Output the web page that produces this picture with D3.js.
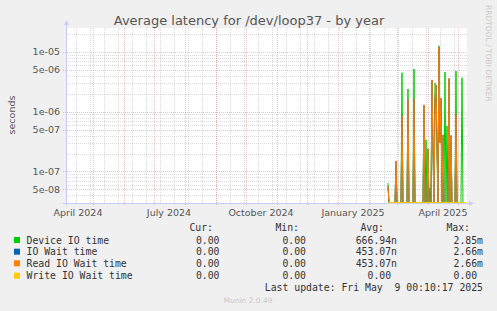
<!DOCTYPE html>
<html>
<head>
<meta charset="utf-8">
<script src="https://cdn.jsdelivr.net/npm/d3@7"></script>
<style>
  body { margin: 0; background: #f0f0f0; }
  svg { display: block; }
</style>
</head>
<body>
<div id="chart"></div>
<script>
const W = 497, H = 311;
const PLOT = { LEFT: 66, RIGHT: 466, TOP: 28, BOTTOM: 203 };

// series, one value per day starting at firstDay (0 = idle)
const firstDay = Date.UTC(2025, 1, 20);
const deviceIO = [
  6.4e-8, 0, 0, 0, 0, 0, 0, 0, 1.2e-7, 0,
  0, 0, 0, 0, 4.5e-6, 0, 0, 0, 0, 0,
  2.4e-6, 0, 0, 0, 0, 0, 5.2e-6, 0, 0, 0,
  0, 0, 0, 0, 0, 0, 1.2e-6, 0, 3.4e-7, 0,
  2.2e-7, 0, 5.3e-8, 0, 3.2e-6, 2.5e-7, 0, 3.0e-6, 2.6e-6, 2.0e-7,
  0, 1.27e-5, 3.0e-7, 1.5e-6, 0, 4.0e-7, 0, 4.6e-6, 0, 5.8e-7,
  0, 3.5e-6, 0, 3.0e-7, 0, 0, 0, 0, 4.8e-6, 0,
  0, 0, 0, 0, 3.7e-6, 0, 0, 0
];
const readWait = [
  5.7e-8, 0, 0, 0, 0, 0, 0, 0, 1.5e-7, 0,
  0, 0, 0, 0, 8.4e-7, 0, 0, 0, 0, 0,
  1.6e-6, 0, 0, 0, 0, 0, 1.6e-6, 0, 0, 0,
  0, 0, 0, 0, 0, 0, 1.3e-6, 0, 0, 0,
  2.4e-7, 0, 0, 0, 3.4e-6, 2.2e-7, 0, 1.5e-6, 2.8e-6, 3.0e-7,
  0, 1.2e-5, 3.0e-7, 1.7e-6, 0, 4.1e-7, 0, 0, 0, 0,
  0, 3.6e-6, 0, 4.0e-7, 0, 0, 0, 0, 8.9e-7, 0,
  0, 0, 0, 0, 0, 0, 0, 0
];
const ioWait = readWait.slice();
const writeWait = readWait.map(() => 0);

const yTickValues = [1e-5, 5e-6, 1e-6, 5e-7, 1e-7, 5e-8];
const yTickLabels = ["1e-05", "5e-06", "1e-06", "5e-07", "1e-07", "5e-08"];
const xLabels = ["April 2024", "July 2024", "October 2024", "January 2025", "April 2025"];

const seriesNames = ["Device IO time", "IO Wait time", "Read IO Wait time", "Write IO Wait time"];
const seriesColors = ["#00cc00", "#0066b3", "#ff8000", "#ffcc00"];
const curVals = ["0.00", "0.00", "0.00", "0.00"];
const minVals = ["0.00", "0.00", "0.00", "0.00"];
const avgVals = ["666.94n", "453.07n", "453.07n", "0.00 "];
const maxVals = ["2.85m", "2.66m", "2.66m", "0.00 "];

const svg = d3.select("#chart").append("svg").attr("width", W).attr("height", H);
svg.append("rect").attr("width", W).attr("height", H).attr("fill", "#f0f0f0");

const start = new Date(Date.UTC(2024, 3, 4, 0, 10, 17));
const end = new Date(Date.UTC(2025, 4, 9, 0, 10, 17));
const x = d3.scaleUtc().domain([start, end]).range([PLOT.LEFT, PLOT.RIGHT]);
const y = d3.scaleLog().domain([2.97e-8, 2.52e-5]).range([PLOT.BOTTOM, PLOT.TOP]);

svg.append("rect")
  .attr("x", PLOT.LEFT).attr("y", PLOT.TOP)
  .attr("width", PLOT.RIGHT - PLOT.LEFT + 1).attr("height", PLOT.BOTTOM - PLOT.TOP)
  .attr("fill", "#ffffff");

const grid = svg.append("g");
const MINOR = "rgba(150,150,150,0.35)";
const MAJOR = "rgba(220,100,100,0.4)";

// horizontal grid
const isMajor = (v) => yTickValues.some((t) => Math.abs(t - v) / t < 1e-6);
y.ticks().forEach((v) => {
  const yy = Math.round(y(v)) + 0.5;
  if (yy < PLOT.TOP || yy > PLOT.BOTTOM) return;
  const major = isMajor(v);
  grid.append("line")
    .attr("x1", major ? PLOT.LEFT - 3 : PLOT.LEFT).attr("x2", PLOT.RIGHT + 1)
    .attr("y1", yy).attr("y2", yy)
    .attr("stroke", major ? MAJOR : MINOR)
    .attr("stroke-dasharray", "1,1");
});

// vertical grid: two-week minor, monthly major
const minorDays = d3.utcDay.range(new Date(Date.UTC(2024, 3, 14)), end, 14);
minorDays.forEach((d) => {
  const xx = Math.round(x(d)) + 0.5;
  grid.append("line")
    .attr("x1", xx).attr("x2", xx)
    .attr("y1", PLOT.TOP).attr("y2", PLOT.BOTTOM)
    .attr("stroke", MINOR).attr("stroke-dasharray", "1,1");
});
d3.utcMonth.range(start, end).forEach((d) => {
  const xx = Math.round(x(d)) + 0.5;
  grid.append("line")
    .attr("x1", xx).attr("x2", xx)
    .attr("y1", PLOT.TOP).attr("y2", PLOT.BOTTOM + 3)
    .attr("stroke", MAJOR).attr("stroke-dasharray", "1,1");
});

// y labels
yTickValues.forEach((v, i) => {
  svg.append("text")
    .attr("x", 60).attr("y", y(v) + 3.5)
    .attr("text-anchor", "end")
    .attr("font-family", "DejaVu Sans").attr("font-size", "9.5px")
    .attr("fill", "#555")
    .text(yTickLabels[i]);
});

// x labels, centred mid-month like rrdtool
const labelMonths = [Date.UTC(2024, 3, 1), Date.UTC(2024, 6, 1), Date.UTC(2024, 9, 1), Date.UTC(2025, 0, 1), Date.UTC(2025, 3, 1)];
labelMonths.forEach((m, i) => {
  svg.append("text")
    .attr("x", x(new Date(m + 15 * 86400000)))
    .attr("y", 216)
    .attr("text-anchor", "middle")
    .attr("font-family", "DejaVu Sans").attr("font-size", "9.5px")
    .attr("fill", "#555")
    .text(xLabels[i]);
});

// data lines
const series = [deviceIO, ioWait, readWait, writeWait];
const yv = (v) => (v > 0 ? y(v) : PLOT.BOTTOM - 0.5);
const line = d3.line()
  .x((v, i) => x(new Date(firstDay + i * 86400000)))
  .y((v) => yv(v));
series.forEach((s, i) => {
  svg.append("path")
    .datum(s)
    .attr("fill", "none")
    .attr("stroke", seriesColors[i])
    .attr("stroke-width", 1)
    .attr("d", line);
});

// axes with arrows
const AXIS = "#c6cdf5";
svg.append("line").attr("x1", PLOT.LEFT + 0.5).attr("x2", PLOT.LEFT + 0.5)
  .attr("y1", PLOT.BOTTOM + 3).attr("y2", PLOT.TOP - 4).attr("stroke", AXIS);
svg.append("line").attr("x1", PLOT.LEFT - 3).attr("x2", PLOT.RIGHT + 4)
  .attr("y1", PLOT.BOTTOM + 0.5).attr("y2", PLOT.BOTTOM + 0.5).attr("stroke", AXIS);
svg.append("path")
  .attr("d", `M${PLOT.LEFT - 2},${PLOT.TOP - 3} L${PLOT.LEFT + 3},${PLOT.TOP - 3} L${PLOT.LEFT + 0.5},${PLOT.TOP - 8} Z`)
  .attr("fill", AXIS);
svg.append("path")
  .attr("d", `M${PLOT.RIGHT + 3},${PLOT.BOTTOM - 2} L${PLOT.RIGHT + 3},${PLOT.BOTTOM + 3} L${PLOT.RIGHT + 8},${PLOT.BOTTOM + 0.5} Z`)
  .attr("fill", AXIS);

// title and side texts
svg.append("text")
  .attr("x", 249).attr("y", 25)
  .attr("text-anchor", "middle")
  .attr("font-family", "DejaVu Sans").attr("font-size", "13px")
  .attr("fill", "#555")
  .text("Average latency for /dev/loop37 - by year");

svg.append("text")
  .attr("transform", "translate(15,115) rotate(-90)")
  .attr("text-anchor", "middle")
  .attr("font-family", "DejaVu Sans").attr("font-size", "9.5px")
  .attr("fill", "#555")
  .text("seconds");

svg.append("text")
  .attr("transform", "translate(486,5) rotate(90)")
  .attr("text-anchor", "start")
  .attr("font-family", "DejaVu Sans").attr("font-size", "7.5px")
  .attr("fill", "#c8c8c8")
  .text("RRDTOOL / TOBI OETIKER");

// legend
const mono = "DejaVu Sans Mono";
const legend = svg.append("g").attr("font-family", mono).attr("font-size", "9.8px").attr("fill", "#333");
[["Cur:", 213], ["Min:", 299], ["Avg:", 384], ["Max:", 470]].forEach(([t, xe]) => {
  legend.append("text").attr("x", xe).attr("y", 231).attr("text-anchor", "end").text(t);
});
const rowY = [240, 251.7, 263.3, 275.7];
seriesNames.forEach((name, i) => {
  legend.append("rect")
    .attr("x", 14).attr("y", rowY[i] - 3).attr("width", 6).attr("height", 6)
    .attr("fill", seriesColors[i]);
  legend.append("text").attr("x", 26.5).attr("y", rowY[i] + 3.5).text(name);
  legend.append("text").attr("x", 219.5).attr("y", rowY[i] + 3.5).attr("text-anchor", "end").text(curVals[i]);
  legend.append("text").attr("x", 306).attr("y", rowY[i] + 3.5).attr("text-anchor", "end").text(minVals[i]);
  legend.append("text").attr("x", 397).attr("y", rowY[i] + 3.5).attr("text-anchor", "end")
    .style("white-space", "pre").text(avgVals[i]);
  legend.append("text").attr("x", 483).attr("y", rowY[i] + 3.5).attr("text-anchor", "end")
    .style("white-space", "pre").text(maxVals[i]);
});
legend.append("text").attr("x", 483).attr("y", 291).attr("text-anchor", "end")
  .style("white-space", "pre")
  .text("Last update: Fri May  9 00:10:17 2025");

svg.append("text")
  .attr("x", 248).attr("y", 303)
  .attr("text-anchor", "middle")
  .attr("font-family", "DejaVu Sans").attr("font-size", "7.5px")
  .attr("fill", "#c8c8c8")
  .text("Munin 2.0.49");
</script>
</body>
</html>
